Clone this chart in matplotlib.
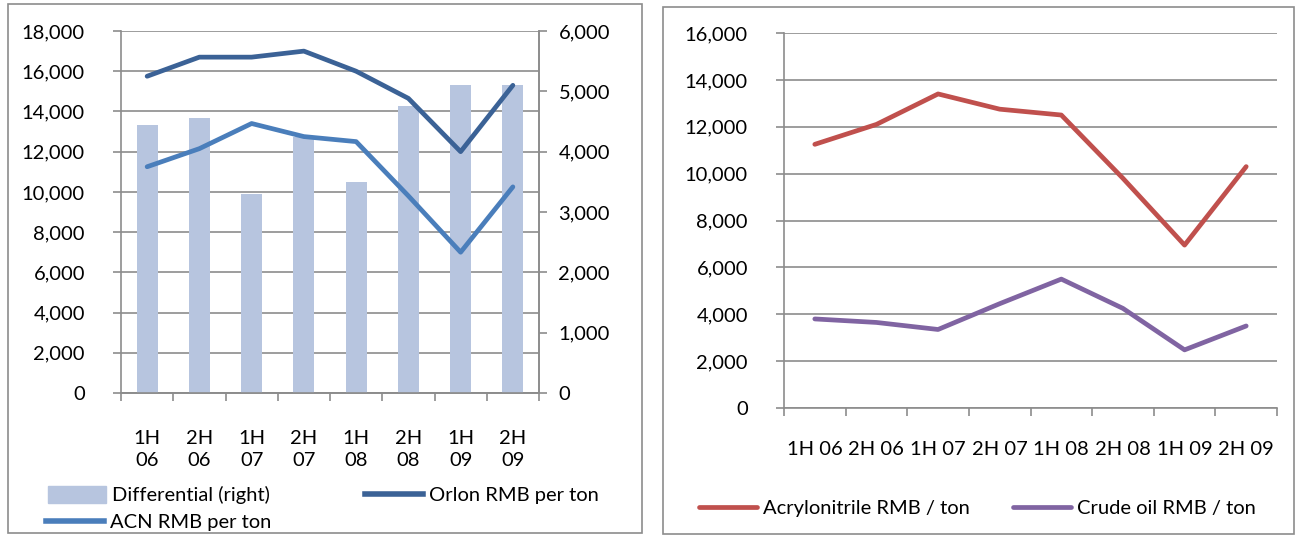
import matplotlib
matplotlib.use("Agg")
import matplotlib.pyplot as plt
from matplotlib.patches import Rectangle, Patch
from matplotlib.lines import Line2D
import numpy as np

plt.rcParams['font.family'] = ['Lato', 'DejaVu Sans']

# data
periods = ['1H 06', '2H 06', '1H 07', '2H 07', '1H 08', '2H 08', '1H 09', '2H 09']
orlon = [15750, 16700, 16700, 17000, 16000, 14650, 12000, 15300]
acn = [11250, 12150, 13400, 12750, 12500, 9800, 7000, 10250]
differential = [4450, 4550, 3300, 4250, 3500, 4750, 5100, 5100]
acrylonitrile = [11250, 12100, 13400, 12750, 12500, 9800, 6950, 10300]
crude_oil = [3800, 3650, 3350, 4450, 5500, 4250, 2480, 3500]

grid_c = '#8c8c8c'
bar_c = '#b7c5df'
orlon_c = '#3b6296'
acn_c = '#4a7ebb'
red_c = '#c0504d'
purple_c = '#8064a2'
fs = 14.5

W, H = 1296, 536
fig = plt.figure(figsize=(W / 100, H / 100), dpi=100)

def px(x0, y0, x1, y1):
    return [x0 / W, 1 - y1 / H, (x1 - x0) / W, (y1 - y0) / H]

# panel borders
for x0, y0, x1, y1 in [(8, 4, 642, 533), (663, 7, 1294, 534)]:
    fig.patches.append(Rectangle((x0 / W, 1 - y1 / H), (x1 - x0) / W, (y1 - y0) / H,
                                 transform=fig.transFigure, fill=False,
                                 edgecolor='#8c8c8c', lw=1.2))

def style(ax):
    for s in ax.spines.values():
        s.set_color(grid_c)
        s.set_linewidth(1.2)
    ax.spines['top'].set_visible(False)
    ax.tick_params(colors=grid_c, labelcolor='black', labelsize=fs,
                   length=6, width=1.2, direction='out')
    ax.yaxis.grid(True, color=grid_c, lw=1.2)
    ax.set_axisbelow(True)

x = np.arange(len(periods))
fmt = matplotlib.ticker.FuncFormatter(lambda v, p: f'{int(v):,}')
leg_kw = dict(frameon=False, fontsize=fs, handlelength=2.9, handletextpad=0.3,
              borderpad=0, borderaxespad=0)

# ---- left panel ----
ax1 = fig.add_axes(px(121, 31, 539, 393))
ax2 = ax1.twinx()
ax2.bar(x, differential, width=0.4, color=bar_c, zorder=1)
ax2.set_ylim(0, 6000)
ax2.set_yticks(range(0, 6001, 1000))
ax2.yaxis.set_major_formatter(fmt)
ax1.set_zorder(ax2.get_zorder() - 1)
ax2.patch.set_visible(False)
ax1.patch.set_visible(False)
ax2.plot(x, np.array(orlon) / 3, color=orlon_c, lw=3.4, solid_capstyle='round', zorder=3)
ax2.plot(x, np.array(acn) / 3, color=acn_c, lw=3.4, solid_capstyle='round', zorder=3)
ax1.set_ylim(0, 18000)
ax1.set_yticks(range(0, 18001, 2000))
ax1.yaxis.set_major_formatter(fmt)
ax1.set_xlim(-0.5, len(periods) - 0.5)
style(ax1)
style(ax2)
ax2.yaxis.grid(False)
ax2.spines['left'].set_visible(False)
ax1.set_xticks(np.arange(-0.5, len(periods), 1))
ax1.set_xticklabels([])
ax1.set_xticks(x, minor=True)
ax1.set_xticklabels([p.replace(' ', '\n') for p in periods], minor=True,
                    fontsize=fs, linespacing=1.35)
ax1.tick_params(axis='x', which='minor', length=0, pad=27)
ax1.tick_params(axis='y', pad=20)
ax2.tick_params(axis='y', pad=8)

fig.legend(handles=[Patch(color=bar_c)], labels=['Differential (right)'],
           loc='center left', bbox_to_anchor=(48 / W, 1 - 495 / H),
           handleheight=0.9, **leg_kw)
fig.legend(handles=[Line2D([], [], color=orlon_c, lw=4)], labels=['Orlon RMB per ton'],
           loc='center left', bbox_to_anchor=(365 / W, 1 - 495 / H), **leg_kw)
fig.legend(handles=[Line2D([], [], color=acn_c, lw=4)], labels=['ACN RMB per ton'],
           loc='center left', bbox_to_anchor=(46 / W, 1 - 522 / H), **leg_kw)

# ---- right panel ----
ax3 = fig.add_axes(px(784, 33, 1277, 408))
ax3.plot(x, acrylonitrile, color=red_c, lw=3.4, solid_capstyle='round',
         label='Acrylonitrile RMB / ton')
ax3.plot(x, crude_oil, color=purple_c, lw=3.4, solid_capstyle='round',
         label='Crude oil RMB / ton')
ax3.set_ylim(0, 16000)
ax3.set_yticks(range(0, 16001, 2000))
ax3.yaxis.set_major_formatter(fmt)
ax3.set_xlim(-0.5, len(periods) - 0.5)
style(ax3)
ax3.spines['right'].set_visible(False)
ax3.set_xticks(np.arange(-0.5, len(periods), 1))
ax3.set_xticklabels([])
ax3.set_xticks(x, minor=True)
ax3.set_xticklabels(periods, minor=True, fontsize=fs)
ax3.tick_params(axis='x', which='minor', length=0, pad=24)
ax3.tick_params(axis='y', pad=20)
h, l = ax3.get_legend_handles_labels()
fig.legend(h[:1], l[:1], loc='center left', bbox_to_anchor=(699 / W, 1 - 508 / H), **leg_kw)
fig.legend(h[1:], l[1:], loc='center left', bbox_to_anchor=(1013 / W, 1 - 508 / H), **leg_kw)

fig.savefig('out.png', dpi=100)
